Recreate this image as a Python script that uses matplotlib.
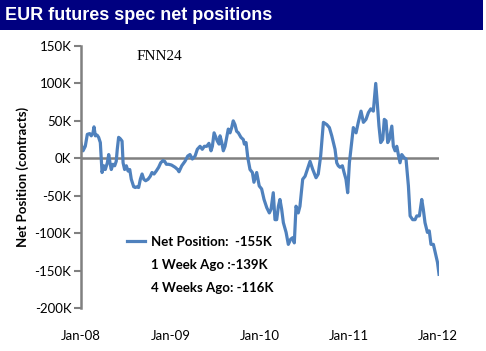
import matplotlib
matplotlib.use('Agg')
import matplotlib.pyplot as plt
import matplotlib.dates as mdates
from matplotlib.lines import Line2D
from matplotlib.patches import Rectangle
import pandas as pd

# weeks since 2008-01-01 and net spec position (thousand contracts)
weeks = [0, 1.2, 2.5, 3.7, 5.1, 6.0, 7.0, 7.6, 8.4, 9.4, 10.3, 11.3, 12.3, 13.3, 14.2,
         15.4, 16.2, 17.1, 17.7, 18.7, 19.7, 20.6, 21.2, 22.0, 23.0, 24.0, 24.6, 25.5,
         26.5, 27.5, 28.5, 29.4, 30.8, 31.7, 32.9, 33.7, 34.7, 35.7, 36.7, 37.8, 39.2,
         40.5, 41.5, 42.7, 44.0, 45.4, 46.6, 47.9, 48.9, 49.9, 51.2, 52.9, 55.0, 56.5,
         57.3, 58.9, 60.8, 62.4, 63.7, 65.1, 66.7, 68.0, 69.6, 70.9, 72.1, 73.5, 74.8,
         76.0, 76.8, 77.8, 78.8, 79.7, 80.7, 81.3, 82.3, 83.2, 84.2, 85.2, 86.1, 87.1,
         88.1, 89.0, 90.0, 91.0, 92.0, 93.5, 94.9, 95.5, 96.5, 97.5, 98.8, 100.2, 101.1,
         102.7, 104.2, 105.6, 107.0, 108.6, 110.1, 111.1, 112.4, 113.4, 114.4, 115.4,
         116.3, 117.3, 118.3, 119.9, 121.2, 122.6, 123.8, 124.7, 125.7, 127.0, 128.0,
         129.6, 131.0, 132.3, 133.9, 135.5, 137.4, 138.7, 140.1, 141.7, 143.7, 145.2,
         146.6, 148.5, 149.5, 150.4, 151.4, 152.8, 153.8, 154.9, 155.9, 156.9, 157.9,
         159.2, 160.8, 162.1, 163.7, 165.1, 166.6, 168.0, 169.4, 170.9, 172.3, 173.2,
         174.2, 175.2, 176.4, 177.3, 178.3, 179.3, 180.2, 181.7, 182.6, 183.6, 184.6,
         185.5, 186.5, 187.5, 188.8, 190.0, 191.4, 192.4, 193.9, 195.3, 196.3, 197.8,
         199.2, 200.1, 201.1, 202.5, 203.6, 204.6, 206.0, 207.6, 208.4, 209.3]
net_pos = [20, 10, 16, 32, 33, 30, 34, 42, 30, 31, 28, 21, -19, -10, -15,
           -6, 5, -8, -15, -8, -10, -4, 12, 28, 26, 23, -6, -15,
           -10, -17, -15, -28, -38, -39, -38, -39, -28, -21, -28, -30, -28,
           -24, -19, -21, -17, -12, -6, -3, -4, -8, -8, -9, -12, -15,
           -18, -10, -4, 3, 5, -1, 3, 12, 16, 12, 16, 16, 20,
           10, 16, 34, 28, 23, 19, 30, 21, 10, 16, 28, 39, 34,
           41, 50, 45, 36, 34, 28, 25, 19, 21, 1, -15, -19, -32,
           -19, -37, -41, -55, -66, -73, -68, -46, -82, -82, -64,
           -55, -68, -86, -99, -115, -108, -106, -113, -64, -73, -64,
           -28, -24, -15, -4, -15, -26, -21, 3, 48, 45, 41,
           30, 12, -6, -10, -12, -10, -19, -28, -46, -6, 14,
           41, 34, 48, 63, 48, 52, 61, 66, 63, 100, 74,
           43, 21, 25, 52, 50, 21, 25, 43, 16, 10, 16,
           5, -6, 5, 1, -1, -37, -77, -82, -82, -77, -77,
           -55, -68, -86, -99, -97, -115, -115, -131, -139, -155]

legend_labels = ['Net Position:  -155K', '1 Week Ago :-139K', '4 Weeks Ago: -116K']
y_ticks = [150, 100, 50, 0, -50, -100, -150, -200]

dates = pd.Timestamp('2008-01-01') + pd.to_timedelta([w * 7 for w in weeks], unit='D')

fig = plt.figure(figsize=(4.86, 3.51), dpi=100)

# title bar
fig.patches.append(Rectangle((0, 1 - 30 / 351), 483 / 486, 30 / 351, transform=fig.transFigure,
                             facecolor='#000080', edgecolor='none', zorder=0))
fig.text(5 / 486, 1 - 16 / 351, 'EUR futures spec net positions', color='white',
         fontsize=13, fontweight='bold', family='Liberation Sans', va='center', ha='left')

ax = fig.add_axes([81 / 486, 1 - 308 / 351, (439 - 81) / 486, (308 - 46) / 351])
line, = ax.plot(dates, net_pos, color='#4F81BD', lw=2.3, solid_joinstyle='round')
ax.axhline(0, color='#808080', lw=1.8, zorder=1)

ax.set_ylim(-200, 150)
ax.set_xlim(pd.Timestamp('2008-01-01'), pd.Timestamp('2012-01-05'))
ax.set_yticks(y_ticks)
ax.yaxis.set_major_formatter(plt.FuncFormatter(lambda v, p: f'{v:.0f}K'))
ax.xaxis.set_major_locator(mdates.YearLocator())
ax.xaxis.set_major_formatter(mdates.DateFormatter('%b-%y'))

for s in ['top', 'right', 'bottom']:
    ax.spines[s].set_visible(False)
ax.spines['left'].set_color('#808080')
ax.spines['left'].set_linewidth(1.8)
ax.tick_params(axis='y', direction='out', length=5, width=1.5, color='#808080',
               labelsize=9.5, pad=2)
ax.tick_params(axis='x', length=0, labelsize=9.5, pad=16)
for lab in ax.get_xticklabels() + ax.get_yticklabels():
    lab.set_family('Lato')

ax.set_ylabel('Net Position (contracts)', fontsize=9.5, fontweight='bold', family='Lato',
              labelpad=4)

fig.text(137 / 486, 1 - 57 / 351, 'FNN24', family='Liberation Serif', fontsize=11,
         va='center', ha='left')

blank = Line2D([], [], alpha=0)
leg = ax.legend([line, blank, blank], legend_labels, loc='upper left',
                bbox_to_anchor=(127 / 486, 1 - 236 / 351), bbox_transform=fig.transFigure,
                frameon=False, borderpad=0, borderaxespad=0, handlelength=1.4,
                handletextpad=0.4, labelspacing=0.85,
                prop={'family': 'Lato', 'weight': 'bold', 'size': 9.5})

fig.savefig('out.png', dpi=100)
